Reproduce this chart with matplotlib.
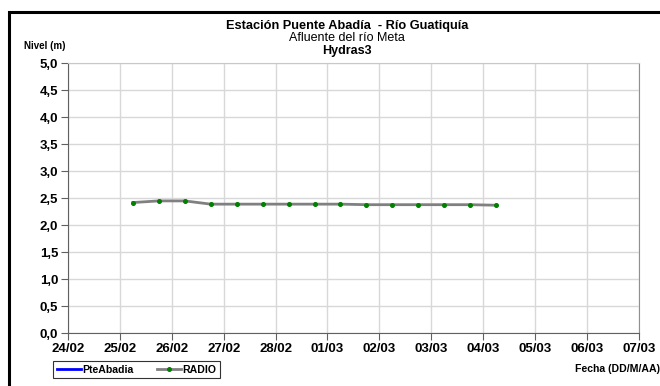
import numpy as np
import pandas as pd
import matplotlib
matplotlib.use('Agg')
import matplotlib.pyplot as plt
import matplotlib.dates as mdates
from matplotlib.patches import Rectangle

plt.rcParams['font.family'] = ['Liberation Sans', 'DejaVu Sans']

# Datos de nivel (m) - estacion RADIO, cada 12 horas
fechas_radio = pd.date_range('2011-02-25 06:00', '2011-03-04 06:00', freq='12h')
nivel_radio = [2.42, 2.45, 2.45, 2.39, 2.39, 2.39, 2.39, 2.39,
               2.39, 2.38, 2.38, 2.38, 2.38, 2.38, 2.37]

# Serie PteAbadia sin datos en el periodo
fechas_pte = []
nivel_pte = []

fecha_ini = pd.Timestamp('2011-02-24')
fecha_fin = pd.Timestamp('2011-03-07')
yticks = np.arange(0, 5.01, 0.5)

fig = plt.figure(figsize=(6.6, 3.86), dpi=100)
ax = fig.add_axes([0.103, 0.137, 0.865, 0.699])

# marco exterior del grafico
fig.patches.append(Rectangle((0.014, -0.05), 1.2, 1.019, transform=fig.transFigure,
                             fill=False, edgecolor='black', lw=2.2))

ax.plot(fechas_pte, nivel_pte, color='#0000ff', lw=2, label='PteAbadia')
ax.plot(fechas_radio, nivel_radio, color='#808080', lw=2, marker='o', ms=2.6,
        mfc='#008000', mec='#008000', label='RADIO')

ax.set_xlim(fecha_ini, fecha_fin)
ax.set_ylim(0, 5)
ax.set_yticks(yticks)
ax.set_yticklabels([f'{v:.1f}'.replace('.', ',') for v in yticks])
ax.xaxis.set_major_locator(mdates.DayLocator())
ax.xaxis.set_major_formatter(mdates.DateFormatter('%d/%m'))

ax.grid(True, color='#d8d8d8', lw=1)
ax.set_axisbelow(True)
for lado in ['left', 'bottom']:
    ax.spines[lado].set_color('#606060')
ax.spines['top'].set_color('#c8c8c8')
ax.spines['right'].set_color('#909090')
ax.tick_params(axis='both', direction='out', length=5, color='#606060',
               labelsize=9.5, pad=2)
for lab in ax.get_xticklabels() + ax.get_yticklabels():
    lab.set_fontweight('bold')

fig.text(0.526, 0.925, 'Estación Puente Abadía  - Río Guatiquía', ha='center',
         fontsize=9.2, fontweight='bold')
fig.text(0.526, 0.893, 'Afluente del río Meta', ha='center', fontsize=9)
fig.text(0.526, 0.86, 'Hydras3', ha='center', fontsize=9, fontweight='bold')
fig.text(0.068, 0.872, 'Nivel (m)', ha='center', fontsize=7, fontweight='bold')
fig.text(1.0, 0.035, 'Fecha (DD/M/AA)', ha='right', fontsize=7.6, fontweight='bold')

leg = fig.legend(loc='lower left', bbox_to_anchor=(0.081, 0.02), ncol=2,
                 fontsize=7.6, frameon=True, fancybox=False, edgecolor='black',
                 handlelength=2.3, columnspacing=2.2, borderpad=0.35,
                 handletextpad=0.1, borderaxespad=0)
leg.get_frame().set_linewidth(0.8)
for t in leg.get_texts():
    t.set_fontweight('bold')

plt.savefig('out.png', dpi=100)
